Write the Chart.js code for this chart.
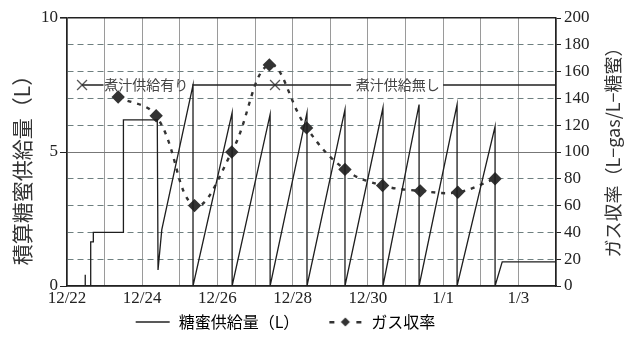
<!DOCTYPE html>
<html>
<head>
<meta charset="utf-8">
<script src="https://cdn.jsdelivr.net/npm/chart.js@4.4.1/dist/chart.umd.min.js"></script>
<style>
  html, body { margin: 0; background: #fff; }
  #wrap { width: 634px; height: 340px; }
</style>
</head>
<body>
<div id="wrap"><canvas id="chart"></canvas></div>
<script>
// x = days since 12/22
const xTickLabels = ['12/22', '12/24', '12/26', '12/28', '12/30', '1/1', '1/3'];

const sugarDays   = [0, 0.48, 0.48, 0.49, 0.63, 0.63, 0.70, 0.70, 1.50, 1.50, 2.40, 2.42, 2.52, 3.35, 3.35, 4.39, 4.39, 5.40, 5.40, 6.38, 6.38, 7.39, 7.39, 8.40, 8.40, 9.36, 9.36, 10.37, 10.37, 11.38, 11.38, 11.57, 13];
const sugarLiters = [0, 0,    0.42, 0,    0,    1.65, 1.65, 2.0,  2.0,  6.2,  6.2,  0.6,  2.1,  7.5,  0,    6.47, 0,    6.4,  0,    6.47, 0,    6.58, 0,    6.65, 0,    6.77, 0,    6.77,  0,     5.95,  0,     0.9,   0.9];

const gasDays  = [1.36, 2.37, 3.39, 4.38, 5.38, 6.37, 7.39, 8.39, 9.39, 10.39, 11.38];
const gasYield = [141, 127, 60, 100, 165, 118, 87, 75, 71, 70, 80];

const brothLevel = 7.5;
const brothSegments = [[0.4, 0.97], [3.33, 7.55], [10.0, 13]];
const brothMarkDays = [0.4, 5.53];
const brothNotes = [
    { day: 2.11, text: '煮汁供給有り' },
    { day: 8.79, text: '煮汁供給無し' }
];

const serif = '"Liberation Serif", "DejaVu Serif", serif';
const jp = '"Noto Sans CJK JP", sans-serif';
const tickFont = { family: serif, size: 17 };

// broth line pieces separated by gaps
const brothData = [];
brothSegments.forEach(([a, b]) => {
    brothData.push({ x: a, y: brothLevel }, { x: b, y: brothLevel }, { x: b + 0.01, y: null });
});

function legendIcon(draw) {
    const c = document.createElement('canvas');
    c.width = 36;
    c.height = 12;
    draw(c.getContext('2d'));
    return c;
}

const sugarIcon = legendIcon(g => {
    g.strokeStyle = '#222';
    g.lineWidth = 1.5;
    g.beginPath();
    g.moveTo(1, 6);
    g.lineTo(35, 6);
    g.stroke();
});

const gasIcon = legendIcon(g => {
    g.fillStyle = '#333';
    g.fillRect(2, 5, 5, 2.5);
    g.fillRect(29, 5, 5, 2.5);
    g.beginPath();
    g.moveTo(18, 1.5);
    g.lineTo(22.5, 6);
    g.lineTo(18, 10.5);
    g.lineTo(13.5, 6);
    g.closePath();
    g.fill();
});

const annotate = {
    id: 'annotate',
    afterDatasetsDraw(chart) {
        const { ctx, scales: { x, y } } = chart;
        ctx.save();
        ctx.font = '14px ' + jp;
        ctx.fillStyle = '#444';
        ctx.textAlign = 'center';
        ctx.textBaseline = 'middle';
        brothNotes.forEach(n => {
            ctx.fillText(n.text, x.getPixelForValue(n.day), y.getPixelForValue(brothLevel));
        });
        ctx.restore();
    },
    afterDraw(chart) {
        const { ctx } = chart;
        ctx.save();
        ctx.fillStyle = '#333';
        ctx.textAlign = 'center';
        ctx.textBaseline = 'middle';
        ctx.font = '21px ' + jp;
        ctx.translate(22, 165);
        ctx.rotate(-Math.PI / 2);
        ctx.fillText('積算糖蜜供給量（L）', 0, 0);
        ctx.restore();

        ctx.save();
        ctx.fillStyle = '#333';
        ctx.textAlign = 'center';
        ctx.textBaseline = 'middle';
        ctx.font = '18px ' + jp;
        ctx.translate(613, 148);
        ctx.rotate(-Math.PI / 2);
        ctx.fillText('ガス収率（L−gas/L−糖蜜）', 0, 0);
        ctx.restore();
    }
};

new Chart(document.getElementById('chart'), {
    type: 'line',
    data: {
        datasets: [
            {
                label: '糖蜜供給量（L）',
                data: sugarDays.map((d, i) => ({ x: d, y: sugarLiters[i] })),
                yAxisID: 'y',
                borderColor: '#1e1e1e',
                borderWidth: 1.3,
                pointRadius: 0,
                tension: 0
            },
            {
                label: 'ガス収率',
                data: gasDays.map((d, i) => ({ x: d, y: gasYield[i] })),
                yAxisID: 'y2',
                borderColor: '#333',
                borderWidth: 2.4,
                borderDash: [4, 6],
                tension: 0.4,
                pointStyle: 'rectRot',
                pointRadius: 5,
                pointBackgroundColor: '#333',
                pointBorderColor: '#333'
            },
            {
                label: 'broth',
                data: brothData,
                yAxisID: 'y',
                borderColor: '#222',
                borderWidth: 1.6,
                pointRadius: 0,
                spanGaps: false
            },
            {
                label: 'brothMarks',
                data: brothMarkDays.map(d => ({ x: d, y: brothLevel })),
                yAxisID: 'y',
                showLine: false,
                pointStyle: 'crossRot',
                pointRadius: 7,
                pointBorderColor: '#555',
                pointBorderWidth: 1.3
            }
        ]
    },
    options: {
        responsive: true,
        maintainAspectRatio: false,
        animation: false,
        layout: { padding: { top: 18, left: 0, right: 0, bottom: 0 } },
        plugins: {
            tooltip: { enabled: false },
            legend: {
                position: 'bottom',
                labels: {
                    usePointStyle: true,
                    pointStyleWidth: 36,
                    padding: 4,
                    color: '#222',
                    font: { family: jp, size: 16 },
                    // full-width spaces widen the gap and pull the legend left like the original
                    generateLabels: () => [
                        { text: '糖蜜供給量（L）\u3000\u3000', pointStyle: sugarIcon, fillStyle: '#222', strokeStyle: '#222', lineWidth: 0, hidden: false, datasetIndex: 0 },
                        { text: 'ガス収率\u3000\u3000\u3000\u3000', pointStyle: gasIcon, fillStyle: '#333', strokeStyle: '#333', lineWidth: 0, hidden: false, datasetIndex: 1 }
                    ]
                }
            }
        },
        scales: {
            x: {
                type: 'linear',
                min: 0,
                max: 13,
                ticks: {
                    stepSize: 1,
                    autoSkip: false,
                    maxRotation: 0,
                    padding: 2,
                    color: '#222',
                    font: tickFont,
                    callback: v => v % 2 === 0 ? xTickLabels[v / 2] : ''
                },
                grid: { color: '#9a9a9a', lineWidth: 1, drawTicks: false },
                border: { color: '#222', width: 1.5 },
                afterFit: s => { s.height = 24; }
            },
            y: {
                min: 0,
                max: 10,
                ticks: {
                    stepSize: 1,
                    padding: 2,
                    color: '#222',
                    font: tickFont,
                    callback: v => v % 5 === 0 ? v : ''
                },
                grid: {
                    color: c => c.tick && c.tick.value === 10 ? '#222' : (c.tick && c.tick.value % 5 === 0 ? '#777' : '#6f8080'),
                    lineWidth: c => c.tick && c.tick.value === 10 ? 1.6 : 1,
                    tickLength: 7,
                    tickColor: c => c.tick && c.tick.value % 5 === 0 ? '#222' : 'rgba(0,0,0,0)'
                },
                border: {
                    color: '#222',
                    width: 1.5,
                    dash: c => c.tick && c.tick.value % 5 !== 0 ? [6, 4] : []
                },
                afterFit: s => { s.width = 67; }
            },
            y2: {
                position: 'right',
                min: 0,
                max: 200,
                ticks: { stepSize: 20, padding: 3, color: '#222', font: tickFont },
                grid: { drawOnChartArea: false, tickLength: 5, tickColor: '#222' },
                border: { color: '#222', width: 1.5 },
                afterFit: s => { s.width = 78; }
            }
        }
    },
    plugins: [annotate]
});
</script>
</body>
</html>
